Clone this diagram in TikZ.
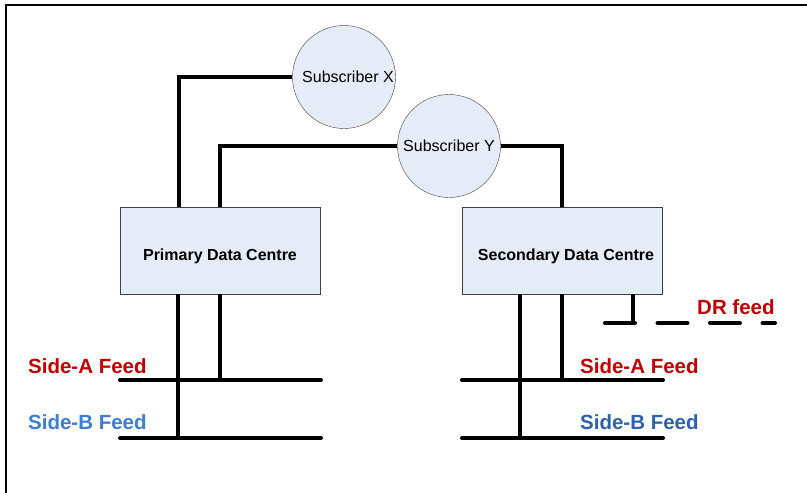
\documentclass[tikz,border=0pt]{standalone}
\usepackage{fontspec}
\setmainfont{Liberation Sans}
\definecolor{boxfill}{HTML}{E6ECF7}
\definecolor{feedred}{HTML}{C00000}
\definecolor{feedblue}{HTML}{3B7DD8}
\definecolor{feedblueb}{HTML}{2E62B0}
\begin{document}
\begin{tikzpicture}[x=1pt, y=-1pt]
\useasboundingbox (0,0) rectangle (807,493);
\draw[line width=2.2pt] (6,493) -- (6,5) -- (807,5);

\tikzset{every node/.style={draw=black!75, fill=boxfill, font=\fontsize{16}{19}\selectfont}}
\tikzset{subscriber/.style={circle, minimum size=103pt, inner sep=0pt}}
\tikzset{centre/.style={rectangle, minimum width=200pt, minimum height=87pt, font=\bfseries\fontsize{16}{19}\selectfont}}
\node[subscriber] (subx) at (344,77) {\hspace*{4pt}Subscriber X\hspace*{-4pt}};
\node[subscriber] (suby) at (449,146) {Subscriber Y};
\node[centre] (pdc) at (220,250.5) {\raisebox{-6pt}[\height][\depth]{Primary Data Centre}};
\node[centre] (sdc) at (562,250.5) {\raisebox{-6pt}[\height][\depth]{\hspace*{4pt}Secondary Data Centre\hspace*{-4pt}}};

\tikzset{every node/.style={}}
\tikzset{feed/.style={anchor=base west, inner sep=0pt, font=\bfseries\fontsize{20.5}{24}\selectfont}}
\node[feed, text=feedred] (pafeed) at (28,373) {Side-A Feed};
\node[feed, text=feedblue] (pbfeed) at (28,429) {Side-B Feed};
\node[feed, text=feedred] (safeed) at (580,373) {Side-A Feed};
\node[feed, text=feedblueb] (sbfeed) at (580,429) {Side-B Feed};
\node[feed, text=feedred] (drfeed) at (697,314) {DR feed};

\coordinate (pa1) at (120,380);
\coordinate (pa2) at (321,380);
\coordinate (pb1) at (120,438);
\coordinate (pb2) at (321,438);
\coordinate (sa1) at (462,380);
\coordinate (sa2) at (663,380);
\coordinate (sb1) at (462,438);
\coordinate (sb2) at (663,438);
\coordinate (dr1) at (605,323);
\coordinate (dr2) at (775,323);

\tikzset{link/.style={line width=4pt}}
\tikzset{bus/.style={line width=4pt, line cap=round}}
\draw[link] (subx.west) -| ([xshift=-41pt]pdc.north);
\draw[link] (suby.west) -| (pdc.north);
\draw[link] (suby.east) -| (sdc.north);
\draw[link] ([xshift=-42pt]pdc.south) -- ([xshift=-42pt]pdc.south |- pb1);
\draw[link] (pdc.south) -- (pdc.south |- pa1);
\draw[link] ([xshift=-42pt]sdc.south) -- ([xshift=-42pt]sdc.south |- sb1);
\draw[link] (sdc.south) -- (sdc.south |- sa1);
\draw[link] ([xshift=71pt]sdc.south) -- ([xshift=71pt]sdc.south |- dr1);
\draw[bus] (pa1) -- (pa2);
\draw[bus] (pb1) -- (pb2);
\draw[bus] (sa1) -- (sa2);
\draw[bus] (sb1) -- (sb2);
\draw[bus, dash pattern=on 30pt off 22.5pt] (dr1) -- (dr2);
\end{tikzpicture}
\end{document}
